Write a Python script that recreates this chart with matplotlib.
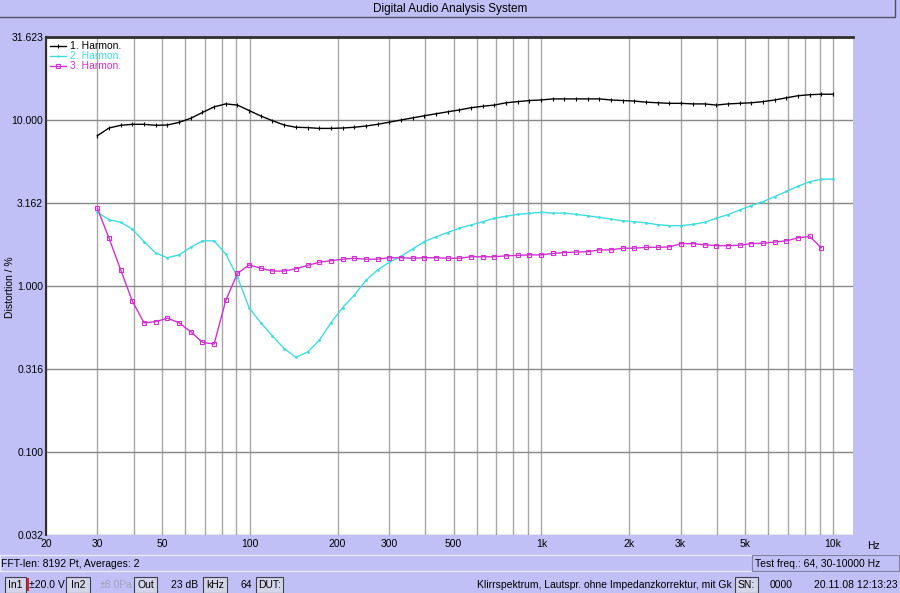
import numpy as np
import matplotlib
matplotlib.use('Agg')
import matplotlib.pyplot as plt
from matplotlib.patches import Rectangle

plt.rcParams['font.family'] = ['Liberation Sans', 'DejaVu Sans']

# 64 test frequencies, 30-10000 Hz (log spaced, as set up in the analyser)
freqs = np.geomspace(30, 10000, 64)

harm1 = [8.04, 8.95, 9.29, 9.42, 9.42, 9.29, 9.33, 9.68, 10.24, 11.1,
         12.0, 12.5, 12.3, 11.4, 10.57, 9.9, 9.33, 9.04, 9.0, 8.9,
         8.9, 8.95, 9.04, 9.2, 9.42, 9.7, 10.0, 10.3, 10.6, 10.9,
         11.2, 11.5, 11.85, 12.1, 12.3, 12.7, 12.9, 13.1, 13.2, 13.4,
         13.4, 13.4, 13.4, 13.4, 13.2, 13.1, 13.0, 12.8, 12.7, 12.6,
         12.6, 12.5, 12.5, 12.3, 12.5, 12.6, 12.7, 12.9, 13.2, 13.6,
         14.0, 14.2, 14.3, 14.3]
harm2 = [2.78, 2.51, 2.42, 2.20, 1.85, 1.58, 1.48, 1.54, 1.71, 1.87,
         1.87, 1.56, 1.13, 0.74, 0.60, 0.50, 0.42, 0.372, 0.40, 0.47,
         0.60, 0.74, 0.88, 1.08, 1.25, 1.39, 1.51, 1.67, 1.85, 1.98,
         2.10, 2.23, 2.33, 2.44, 2.56, 2.63, 2.70, 2.74, 2.78, 2.75,
         2.75, 2.70, 2.65, 2.59, 2.53, 2.47, 2.44, 2.40, 2.34, 2.31,
         2.31, 2.35, 2.42, 2.56, 2.69, 2.87, 3.05, 3.22, 3.45, 3.71,
         3.99, 4.25, 4.39, 4.41]
harm3 = [2.94, 1.94, 1.25, 0.81, 0.60, 0.61, 0.64, 0.60, 0.53, 0.458,
         0.447, 0.82, 1.19, 1.34, 1.28, 1.23, 1.23, 1.27, 1.33, 1.39,
         1.42, 1.45, 1.47, 1.45, 1.45, 1.48, 1.48, 1.47, 1.48, 1.48,
         1.47, 1.47, 1.50, 1.50, 1.50, 1.52, 1.53, 1.54, 1.54, 1.57,
         1.59, 1.60, 1.61, 1.65, 1.65, 1.69, 1.69, 1.71, 1.71, 1.72,
         1.80, 1.80, 1.77, 1.75, 1.75, 1.76, 1.80, 1.81, 1.84, 1.87,
         1.95, 1.99, 1.70]

xgrid = [20, 30, 40, 50, 60, 70, 80, 90, 100, 200, 300, 400, 500, 600,
         700, 800, 900, 1000, 2000, 3000, 4000, 5000, 6000, 7000, 8000,
         9000, 10000]
xlabels = {20: '20', 30: '30', 50: '50', 100: '100', 200: '200', 300: '300',
           500: '500', 1000: '1k', 2000: '2k', 3000: '3k', 5000: '5k',
           10000: '10k'}
yticks = [10 ** -1.5, 0.1, 10 ** -0.5, 1, 10 ** 0.5, 10, 10 ** 1.5]
ylabels = ['0.032', '0.100', '0.316', '1.000', '3.162', '10.000', '31.623']

BG = '#c0c0f6'
W, H = 900, 593
FS = 7.5

fig = plt.figure(figsize=(9, 5.93), dpi=100, facecolor=BG)

def fx(px):
    return px / W

def fy(py):
    return 1 - py / H

# title bar
fig.patches.append(Rectangle((fx(-2), fy(17)), fx(897), 19 / H,
                             transform=fig.transFigure, facecolor=BG,
                             edgecolor='#505060', lw=1))
fig.text(0.5, fy(9), 'Digital Audio Analysis System', ha='center',
         va='center', fontsize=8.5)

ax = fig.add_axes([fx(46), fy(535), fx(853 - 46), (535 - 37) / H])
ax.set_facecolor('white')
ax.set_xscale('log')
ax.set_yscale('log')
ax.set_xlim(20, 11714)
ax.set_ylim(10 ** -1.5, 10 ** 1.5)

ax.set_xticks(xgrid)
ax.set_xticklabels([xlabels.get(v, '') for v in xgrid])
ax.xaxis.set_minor_locator(matplotlib.ticker.NullLocator())
ax.set_yticks(yticks)
ax.set_yticklabels(ylabels)
ax.yaxis.set_minor_locator(matplotlib.ticker.NullLocator())
ax.tick_params(length=0, labelsize=FS, pad=3)
ax.tick_params(axis='y', pad=2)
ax.grid(True, axis='x', color='#a8a8a8', lw=1)
ax.grid(True, axis='y', color='#888888', lw=1)
ax.set_axisbelow(True)
for s in ('right', 'bottom'):
    ax.spines[s].set_visible(False)
ax.spines['top'].set_color('#303030')
ax.spines['top'].set_linewidth(2)
ax.spines['left'].set_color('#303030')
ax.spines['left'].set_linewidth(1.5)

ax.plot(freqs, harm1, color='black', lw=1, marker='|', ms=3.5, mew=0.8,
        label='1. Harmon.')
ax.plot(freqs, harm2, color='#40dcdc', lw=1, marker='o', ms=2, mew=0,
        label='2. Harmon.')
ax.plot(freqs[:len(harm3)], harm3, color='#d030d0', lw=1, marker='s',
        ms=2.8, mfc='none', mew=0.8, label='3. Harmon.')

ax.legend(loc='upper left', frameon=False, fontsize=7.5,
          handlelength=1.5, handletextpad=0.4, labelspacing=0.0,
          borderaxespad=0.2, borderpad=0.2, labelcolor='linecolor',
          markerscale=0.8)

fig.text(fx(10), fy(287), 'Distortion / %', rotation=90, ha='center',
         va='center', fontsize=FS)
fig.text(fx(873), fy(546), 'Hz', ha='center', va='center', fontsize=FS)

# status bars
fig.patches.append(Rectangle((fx(0), fy(571)), 1, 16 / H,
                             transform=fig.transFigure, facecolor=BG,
                             edgecolor='#e8e8ff', lw=1))
fig.patches.append(Rectangle((fx(752), fy(571)), fx(147), 16 / H,
                             transform=fig.transFigure, facecolor=BG,
                             edgecolor='#8080a0', lw=0.8))
fig.text(fx(1), fy(564), 'FFT-len: 8192 Pt, Averages: 2', ha='left',
         va='center', fontsize=FS)
fig.text(fx(755), fy(564), 'Test freq.: 64, 30-10000 Hz', ha='left',
         va='center', fontsize=FS)

yb = fy(585)
buttons = [(5, 26, 'In1'), (66, 90, 'In2'), (134, 157, 'Out'),
           (203, 227, 'kHz'), (256, 283, 'DUT:'), (735, 758, 'SN:')]
for x0, x1, txt in buttons:
    fig.patches.append(Rectangle((fx(x0), fy(593)), fx(x1 - x0), 16 / H,
                                 transform=fig.transFigure,
                                 facecolor='#d4d4e8', edgecolor='#404050',
                                 lw=0.8))
    fig.text(fx((x0 + x1) / 2), yb, txt, ha='center', va='center',
             fontsize=FS)
fig.patches.append(Rectangle((fx(27), fy(591)), fx(2), 13 / H,
                             transform=fig.transFigure, facecolor='#e02020',
                             edgecolor='none'))
fig.text(fx(29), yb, '±20.0 V', ha='left', va='center', fontsize=FS)
fig.text(fx(100), yb, '±8.0Pa', ha='left', va='center', fontsize=FS,
         color='#a0a0b8')
fig.text(fx(198), yb, '23 dB', ha='right', va='center', fontsize=FS)
fig.text(fx(252), yb, '64', ha='right', va='center', fontsize=FS)
fig.text(fx(732), yb, 'Klirrspektrum, Lautspr. ohne Impedanzkorrektur, mit Gk',
         ha='right', va='center', fontsize=FS)
fig.text(fx(793), yb, '0000', ha='right', va='center', fontsize=FS)
fig.text(fx(898), yb, '20.11.08 12:13:23', ha='right', va='center',
         fontsize=FS)

fig.savefig('out.png', dpi=100, facecolor=BG)
